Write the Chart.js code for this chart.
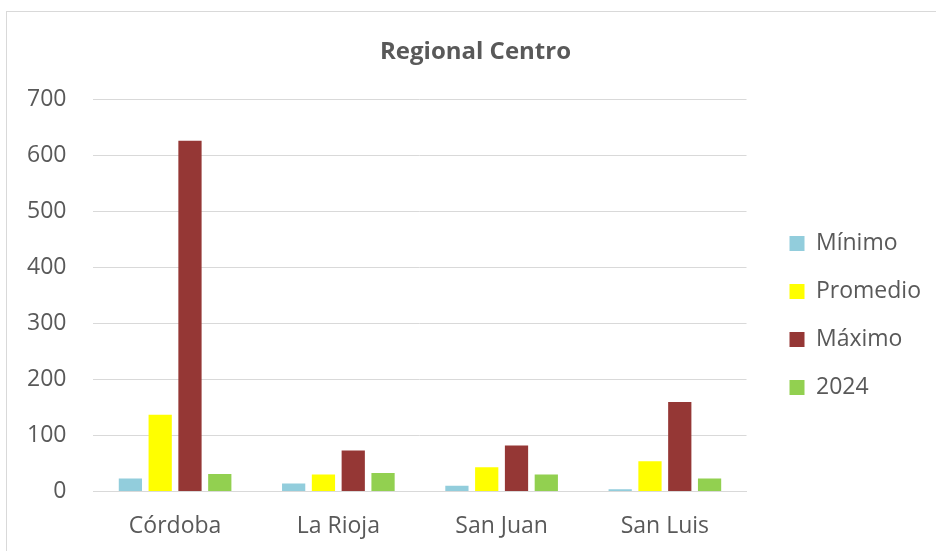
<!DOCTYPE html>
<html>
<head>
<meta charset="utf-8">
<script src="https://cdn.jsdelivr.net/npm/chart.js@4/dist/chart.umd.min.js"></script>
<style>
  html, body { margin: 0; padding: 0; background: #fff; overflow: hidden; }
  #frame { position: absolute; left: 6px; top: 11px; width: 1000px; height: 600px;
           border-top: 1px solid #d9d9d9; border-left: 1px solid #d9d9d9; }
  #wrap { position: absolute; left: 0; top: 0; width: 936px; height: 551px; }
</style>
</head>
<body>
<div id="frame"></div>
<div id="wrap"><canvas id="regional-centro"></canvas></div>
<script>
var provincias = ["Córdoba", "La Rioja", "San Juan", "San Luis"];
var minimo   = [23, 14, 10, 4];
var promedio = [137, 30, 43, 54];
var maximo   = [627, 73, 82, 160];
var anio2024 = [31, 33, 30, 23];

Chart.defaults.font.family = "'Open Sans', sans-serif";
Chart.defaults.color = "#595959";

/* move legend and title a bit, like the original sheet */
var blockNudge = {
  id: 'blockNudge',
  afterLayout: function(chart) {
    var lg = chart.legend;
    lg.left += 18; lg.right += 18;
    lg.top += 29; lg.bottom += 29;
    var tb = chart.titleBlock;
    tb.left += 19; tb.right += 19;
  }
};

/* render regional centro chart */
function renderRegionalCentro() {
  var ctx = document.getElementById("regional-centro");

  var chartData = {
      labels: provincias,
      datasets: [
          { label: "Mínimo", data: minimo, backgroundColor: "#92cddc" },
          { label: "Promedio", data: promedio, backgroundColor: "#ffff00" },
          { label: "Máximo", data: maximo, backgroundColor: "#953735" },
          { label: "2024", data: anio2024, backgroundColor: "#92d050" }
      ]
  };

  var myChart = new Chart(ctx, {
      type: 'bar',
      data: chartData,
      plugins: [blockNudge],
      options: {
        responsive: true,
        maintainAspectRatio: false,
        animation: false,
        datasets: {
          bar: { categoryPercentage: 0.73, barPercentage: 0.78 }
        },
        layout: { padding: { left: 0, top: 12, right: 23, bottom: -10 } },
        plugins: {
          title: {
            display: true,
            text: "Regional Centro",
            font: { size: 24, weight: 'bold' },
            padding: { top: 26, bottom: 33 }
          },
          legend: {
            position: 'right',
            labels: {
              boxWidth: 15,
              boxHeight: 15,
              padding: 25,
              font: { size: 23 }
            }
          },
          tooltip: { enabled: false }
        },
        scales: {
          x: {
            grid: { display: false, drawTicks: false },
            border: { color: "#d9d9d9" },
            ticks: { font: { size: 23 }, padding: 21, maxRotation: 0, autoSkip: false }
          },
          y: {
            min: 0,
            max: 700,
            ticks: { stepSize: 100, font: { size: 23 }, padding: 27 },
            grid: { color: "#d9d9d9", drawTicks: false },
            border: { display: false }
          }
        }
      }
  });
}

renderRegionalCentro();
</script>
</body>
</html>
